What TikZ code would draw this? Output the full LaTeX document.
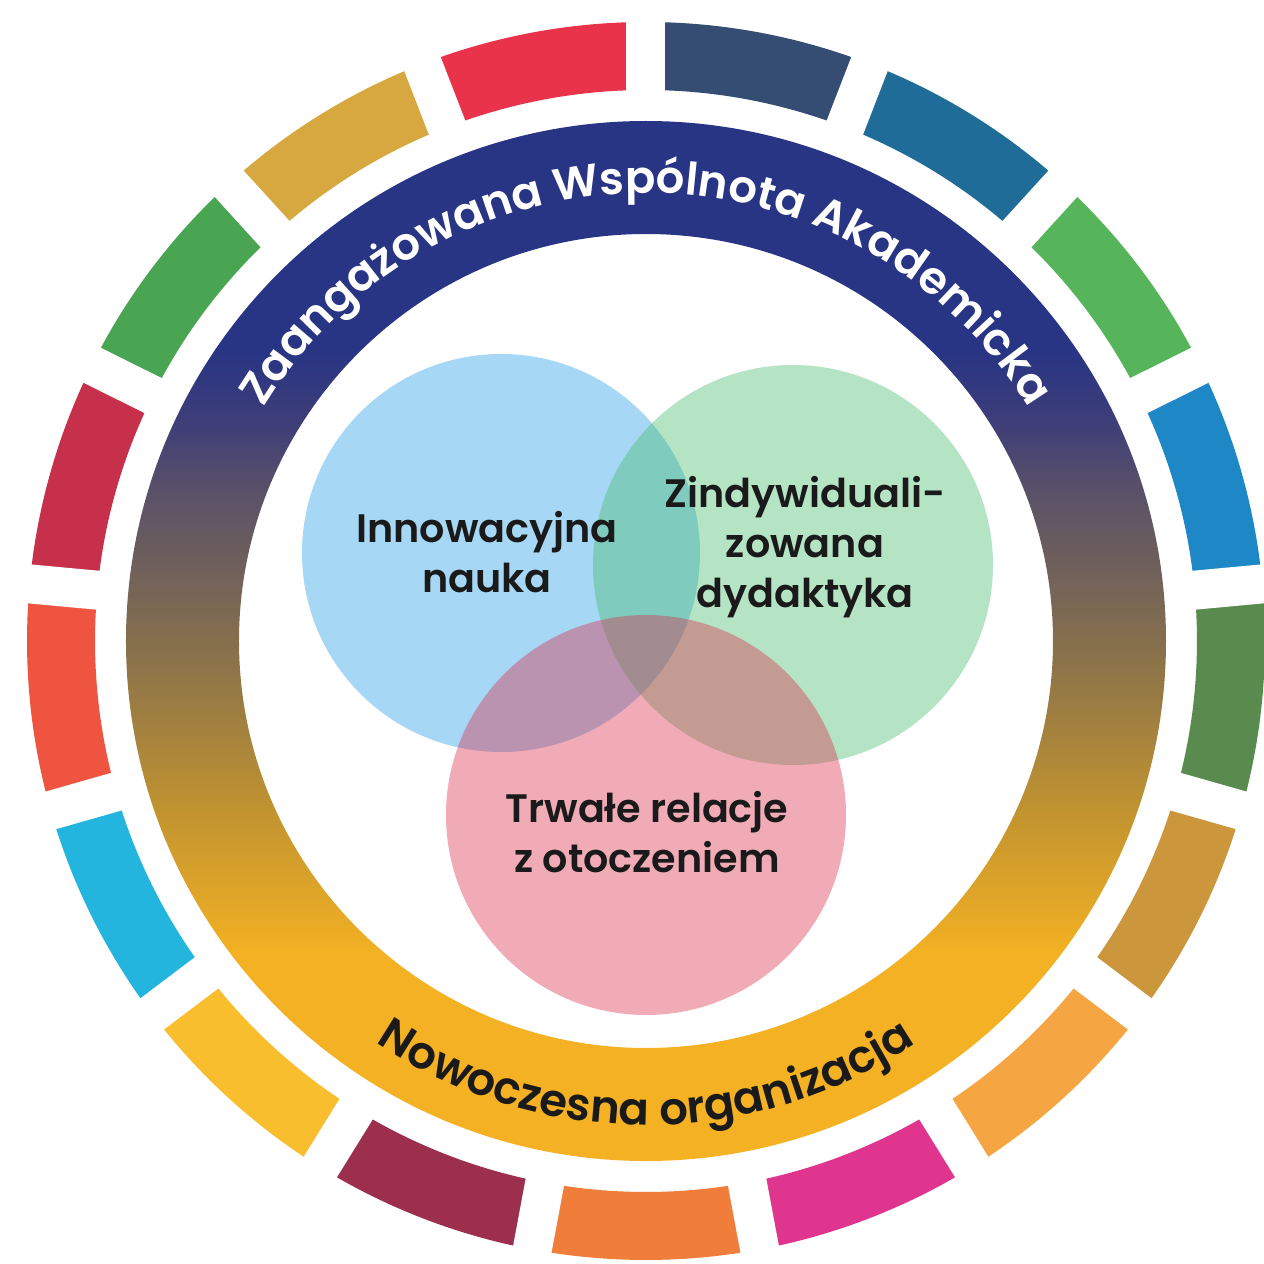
\documentclass[tikz,border=0pt]{standalone}
\usepackage{fontspec}
\setmainfont{Poppins}[UprightFont={* SemiBold}]
\usetikzlibrary{decorations.text}
\definecolor{sdgA}{HTML}{E9334A}
\definecolor{sdgB}{HTML}{D7A840}
\definecolor{sdgC}{HTML}{4AA552}
\definecolor{sdgD}{HTML}{C7304A}
\definecolor{sdgE}{HTML}{EE5440}
\definecolor{sdgF}{HTML}{23B5DE}
\definecolor{sdgG}{HTML}{F8BE2E}
\definecolor{sdgH}{HTML}{9D2F4E}
\definecolor{sdgI}{HTML}{F07D3A}
\definecolor{sdgJ}{HTML}{E0358E}
\definecolor{sdgK}{HTML}{F5A642}
\definecolor{sdgL}{HTML}{CB963C}
\definecolor{sdgM}{HTML}{5A8B4E}
\definecolor{sdgN}{HTML}{1E88C7}
\definecolor{sdgO}{HTML}{56B55B}
\definecolor{sdgP}{HTML}{1F6C98}
\definecolor{sdgQ}{HTML}{364D73}
\definecolor{ringN}{HTML}{283484}
\definecolor{ringM}{HTML}{3E3E78}
\definecolor{ringP}{HTML}{5B5268}
\definecolor{ringB}{HTML}{88714B}
\definecolor{ringO}{HTML}{C4952F}
\definecolor{ringY}{HTML}{F3B123}
\definecolor{nauka}{HTML}{209DE6}
\definecolor{dydak}{HTML}{46BB6E}
\definecolor{relac}{HTML}{D92D48}
\definecolor{ink}{HTML}{1A1A1A}
\pgfdeclareverticalshading{ringgrad}{100bp}{color(0bp)=(ringY); color(35bp)=(ringY); color(41.5bp)=(ringO); color(49.5bp)=(ringB); color(57bp)=(ringP); color(60.5bp)=(ringM); color(64bp)=(ringN); color(100bp)=(ringN)}
\newcommand\ringfont{\fontsize{12.8pt}{15pt}\selectfont}
\tikzset{
	venn/.style={fill opacity=0.4},
	lbl/.style={align=center,text=ink,font=\fontsize{11.3pt}{14.2pt}\selectfont}
}
\begin{document}
\begin{tikzpicture}
	\useasboundingbox (-6.46,-6.23) rectangle (6.18,6.41);
	\foreach \c [count=\i from 0, evaluate=\i as \a using 90+\i*360/17, evaluate=\i as \b using 90+(\i+1)*360/17] in {sdgA,sdgB,sdgC,sdgD,sdgE,sdgF,sdgG,sdgH,sdgI,sdgJ,sdgK,sdgL,sdgM,sdgN,sdgO,sdgP,sdgQ}
		\fill[color=\c] (\a:6.19) arc[radius=6.19,start angle=\a,end angle=\b] -- (\b:5.51) arc[radius=5.51,start angle=\b,end angle=\a] -- cycle;
	\foreach \i in {0,...,16}
		\draw[color=white,line width=0.39cm] ({90+\i*360/17}:5.3) -- ({90+\i*360/17}:6.4);
	\shade[shading=ringgrad,even odd rule] (0,0) circle[radius=5.20] circle[radius=4.07];
	\path[decorate,decoration={text along path,text align=center,text={|\ringfont\color{white}|Zaangażowana Wspólnota Akademicka}}] (180:4.48) arc[radius=4.48,start angle=180,end angle=0];
	\path[decorate,decoration={text along path,text align=center,text={|\ringfont\color{ink}|Nowoczesna organizacja}}] (180:4.84) arc[radius=4.84,start angle=180,end angle=360];
	\fill[color=nauka,venn] (-1.45,0.88) circle[radius=1.99];
	\fill[color=dydak,venn] (1.47,0.76) circle[radius=2.0];
	\fill[color=relac,venn] (0,-1.74) circle[radius=2.0];
	\node[lbl] (innow) at (-1.59,0.89) {Innowacyjna\\nauka};
	\node[lbl] (zindy) at (1.59,0.94) {Zindywiduali-\\zowana\\dydaktyka};
	\node[lbl] (trwale) at (0.01,-1.91) {Trwałe relacje\\z otoczeniem};
\end{tikzpicture}
\end{document}
